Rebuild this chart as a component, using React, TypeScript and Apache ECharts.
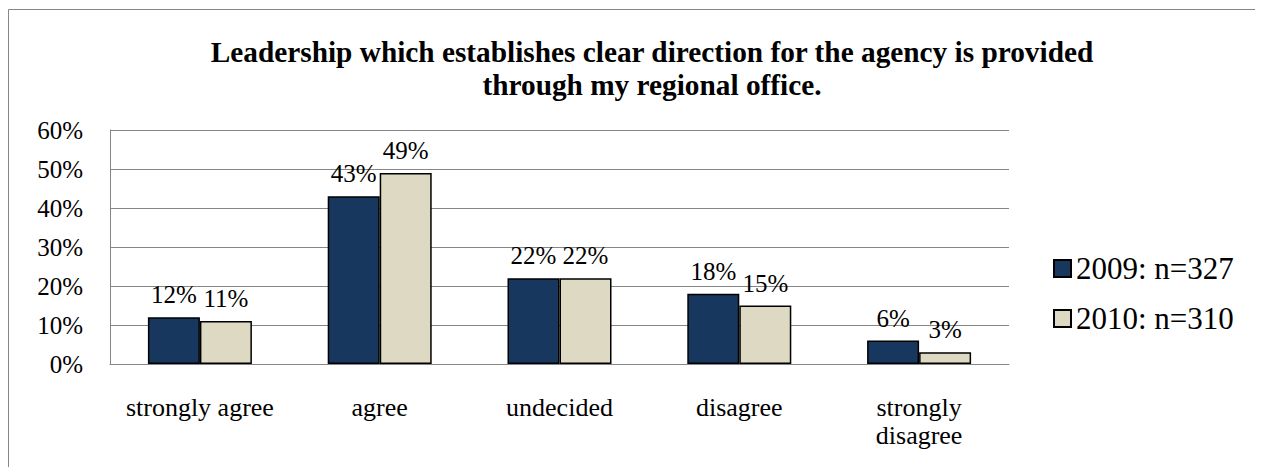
import React, { useEffect, useRef } from "react";
import * as echarts from "echarts";

const categories = ["strongly agree", "agree", "undecided", "disagree", "strongly\ndisagree"];
const series2009 = [12, 43, 22, 18, 6];
const series2010 = [11, 49, 22, 15, 3];
const seriesNames = ["2009: n=327", "2010: n=310"];
const titleText = "Leadership which establishes clear direction for the agency is provided\nthrough my regional office.";

const FONT = "Liberation Serif";

export default function App() {
  const ref = useRef<HTMLDivElement>(null);
  useEffect(() => {
    if (!ref.current) return;
    const chart = echarts.init(ref.current, null, { renderer: "svg" });
    const label = {
      show: true,
      position: "top",
      distance: 10,
      formatter: (p: any) => p.value + "%",
      fontFamily: FONT,
      fontWeight: "normal",
      fontSize: 25,
      color: "#000",
    };
    chart.setOption({
      animation: false,
      textStyle: { fontFamily: FONT },
      title: {
        text: titleText,
        left: 639,
        top: 22,
        textAlign: "center",
        textStyle: {
          fontFamily: FONT,
          fontSize: 29.3,
          fontWeight: "bold",
          color: "#000",
          lineHeight: 33,
        },
      },
      graphic: [
        {
          type: "line",
          shape: { x1: 0.5, y1: 1.5, x2: 1300, y2: 1.5 },
          style: { stroke: "#868686", lineWidth: 1 },
          silent: true,
          z: -10,
        },
        {
          type: "line",
          shape: { x1: 0.5, y1: 1.5, x2: 0.5, y2: 600 },
          style: { stroke: "#868686", lineWidth: 1 },
          silent: true,
          z: -10,
        },
      ],
      legend: {
        orient: "vertical",
        left: 1040,
        top: 240,
        itemWidth: 17,
        itemHeight: 17,
        itemGap: 19,
        icon: "rect",
        textStyle: { fontFamily: FONT, fontWeight: "normal", fontSize: 31, color: "#000", lineHeight: 31 },
        data: seriesNames,
      },
      grid: { left: 102, top: 122, width: 899, height: 234, containLabel: false },
      xAxis: {
        type: "category",
        data: categories,
        axisLine: { show: true, lineStyle: { color: "#868686", width: 1 } },
        axisTick: { show: false },
        axisLabel: {
          fontFamily: FONT,
          fontWeight: "normal",
          fontSize: 26,
          color: "#000",
          margin: 29,
          lineHeight: 28,
          interval: 0,
        },
      },
      yAxis: {
        type: "value",
        min: 0,
        max: 60,
        interval: 10,
        axisLine: { show: true, lineStyle: { color: "#868686", width: 1 } },
        axisTick: { show: false },
        splitLine: { show: true, lineStyle: { color: "#868686", width: 1 } },
        axisLabel: {
          fontFamily: FONT,
          fontWeight: "normal",
          fontSize: 25,
          color: "#000",
          margin: 27,
          formatter: (v: number) => v + "%",
        },
      },
      series: [
        {
          name: seriesNames[0],
          type: "bar",
          data: series2009,
          barWidth: 52,
          barGap: "0%",
          itemStyle: { color: "#17375e", borderColor: "#000", borderWidth: 1.5 },
          label,
        },
        {
          name: seriesNames[1],
          type: "bar",
          data: series2010,
          barWidth: 52,
          barGap: "0%",
          itemStyle: { color: "#ddd9c3", borderColor: "#000", borderWidth: 1.5 },
          label,
        },
      ],
    });
    return () => chart.dispose();
  }, []);
  return (
    <div style={{ width: 1255, height: 459, overflow: "hidden" }}>
      <div ref={ref} style={{ width: 1400, height: 600 }} />
    </div>
  );
}
